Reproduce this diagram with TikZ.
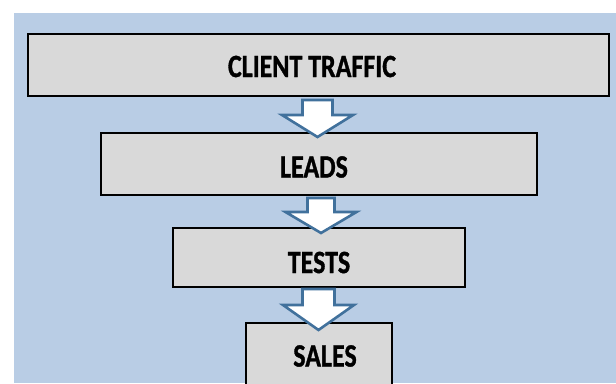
\documentclass[tikz,border=0pt]{standalone}
\usepackage{fontspec}
\setmainfont{Carlito}
\newfontfamily\heavyfont[FakeBold=1.2]{Carlito}
\usetikzlibrary{calc}
\definecolor{bgblue}{HTML}{B9CDE5}
\definecolor{boxgray}{HTML}{D9D9D9}
\definecolor{arrowblue}{HTML}{41719C}
\tikzset{
  stagebox/.style={draw=black, line width=2.4pt, fill=boxgray, inner sep=0pt},
  stagetext/.style={inner sep=0pt, font=\fontsize{26}{26}\heavyfont\bfseries, text=black},
  blockarrow/.style={draw=arrowblue, line width=2.6pt, fill=white, line join=miter}
}
\newcommand{\downarrowshape}[5]{% center x, shaft top y, head y, tip y, shaft half width
  \draw[blockarrow] (#1-#5,#2) -- (#1+#5,#2) -- (#1+#5,#3) -- (#1+35.5,#3) -- (#1,#4)
    -- (#1-35.5,#3) -- (#1-#5,#3) -- cycle;}
\begin{document}
\begin{tikzpicture}[x=1pt,y=-1pt]
  \useasboundingbox (0,0) rectangle (616,383);
  \fill[white] (0,0) rectangle (616,383);
  \fill[bgblue] (14,13) rectangle (616,383);
  % boxes
  \node[stagebox, minimum width=581pt, minimum height=62pt] (b1) at (318.5,65) {};
  \node[stagebox, minimum width=436pt, minimum height=62pt] (b2) at (319,164) {};
  \node[stagebox, minimum width=292pt, minimum height=59pt] (b3) at (319,257.5) {};
  \node[stagebox, minimum width=146pt, minimum height=80pt] (b4) at (319,363) {};
  % labels
  \node[stagetext] (t1) at (312,66.5) {\scalebox{1}[1.25]{CLIENT TRAFFIC}};
  \node[stagetext] (t2) at (314,167) {\scalebox{1}[1.25]{LEADS}};
  \node[stagetext] (t3) at (319,262.5) {\scalebox{1}[1.25]{TESTS}};
  \node[stagetext] (t4) at (325,356) {\scalebox{1}[1.25]{SALES}};
  % arrows between boxes
  \downarrowshape{317.5}{100}{115}{137}{15}
  \downarrowshape{321}{198}{212}{233}{13.5}
  \downarrowshape{318.5}{289}{305}{330}{16}
\end{tikzpicture}
\end{document}
